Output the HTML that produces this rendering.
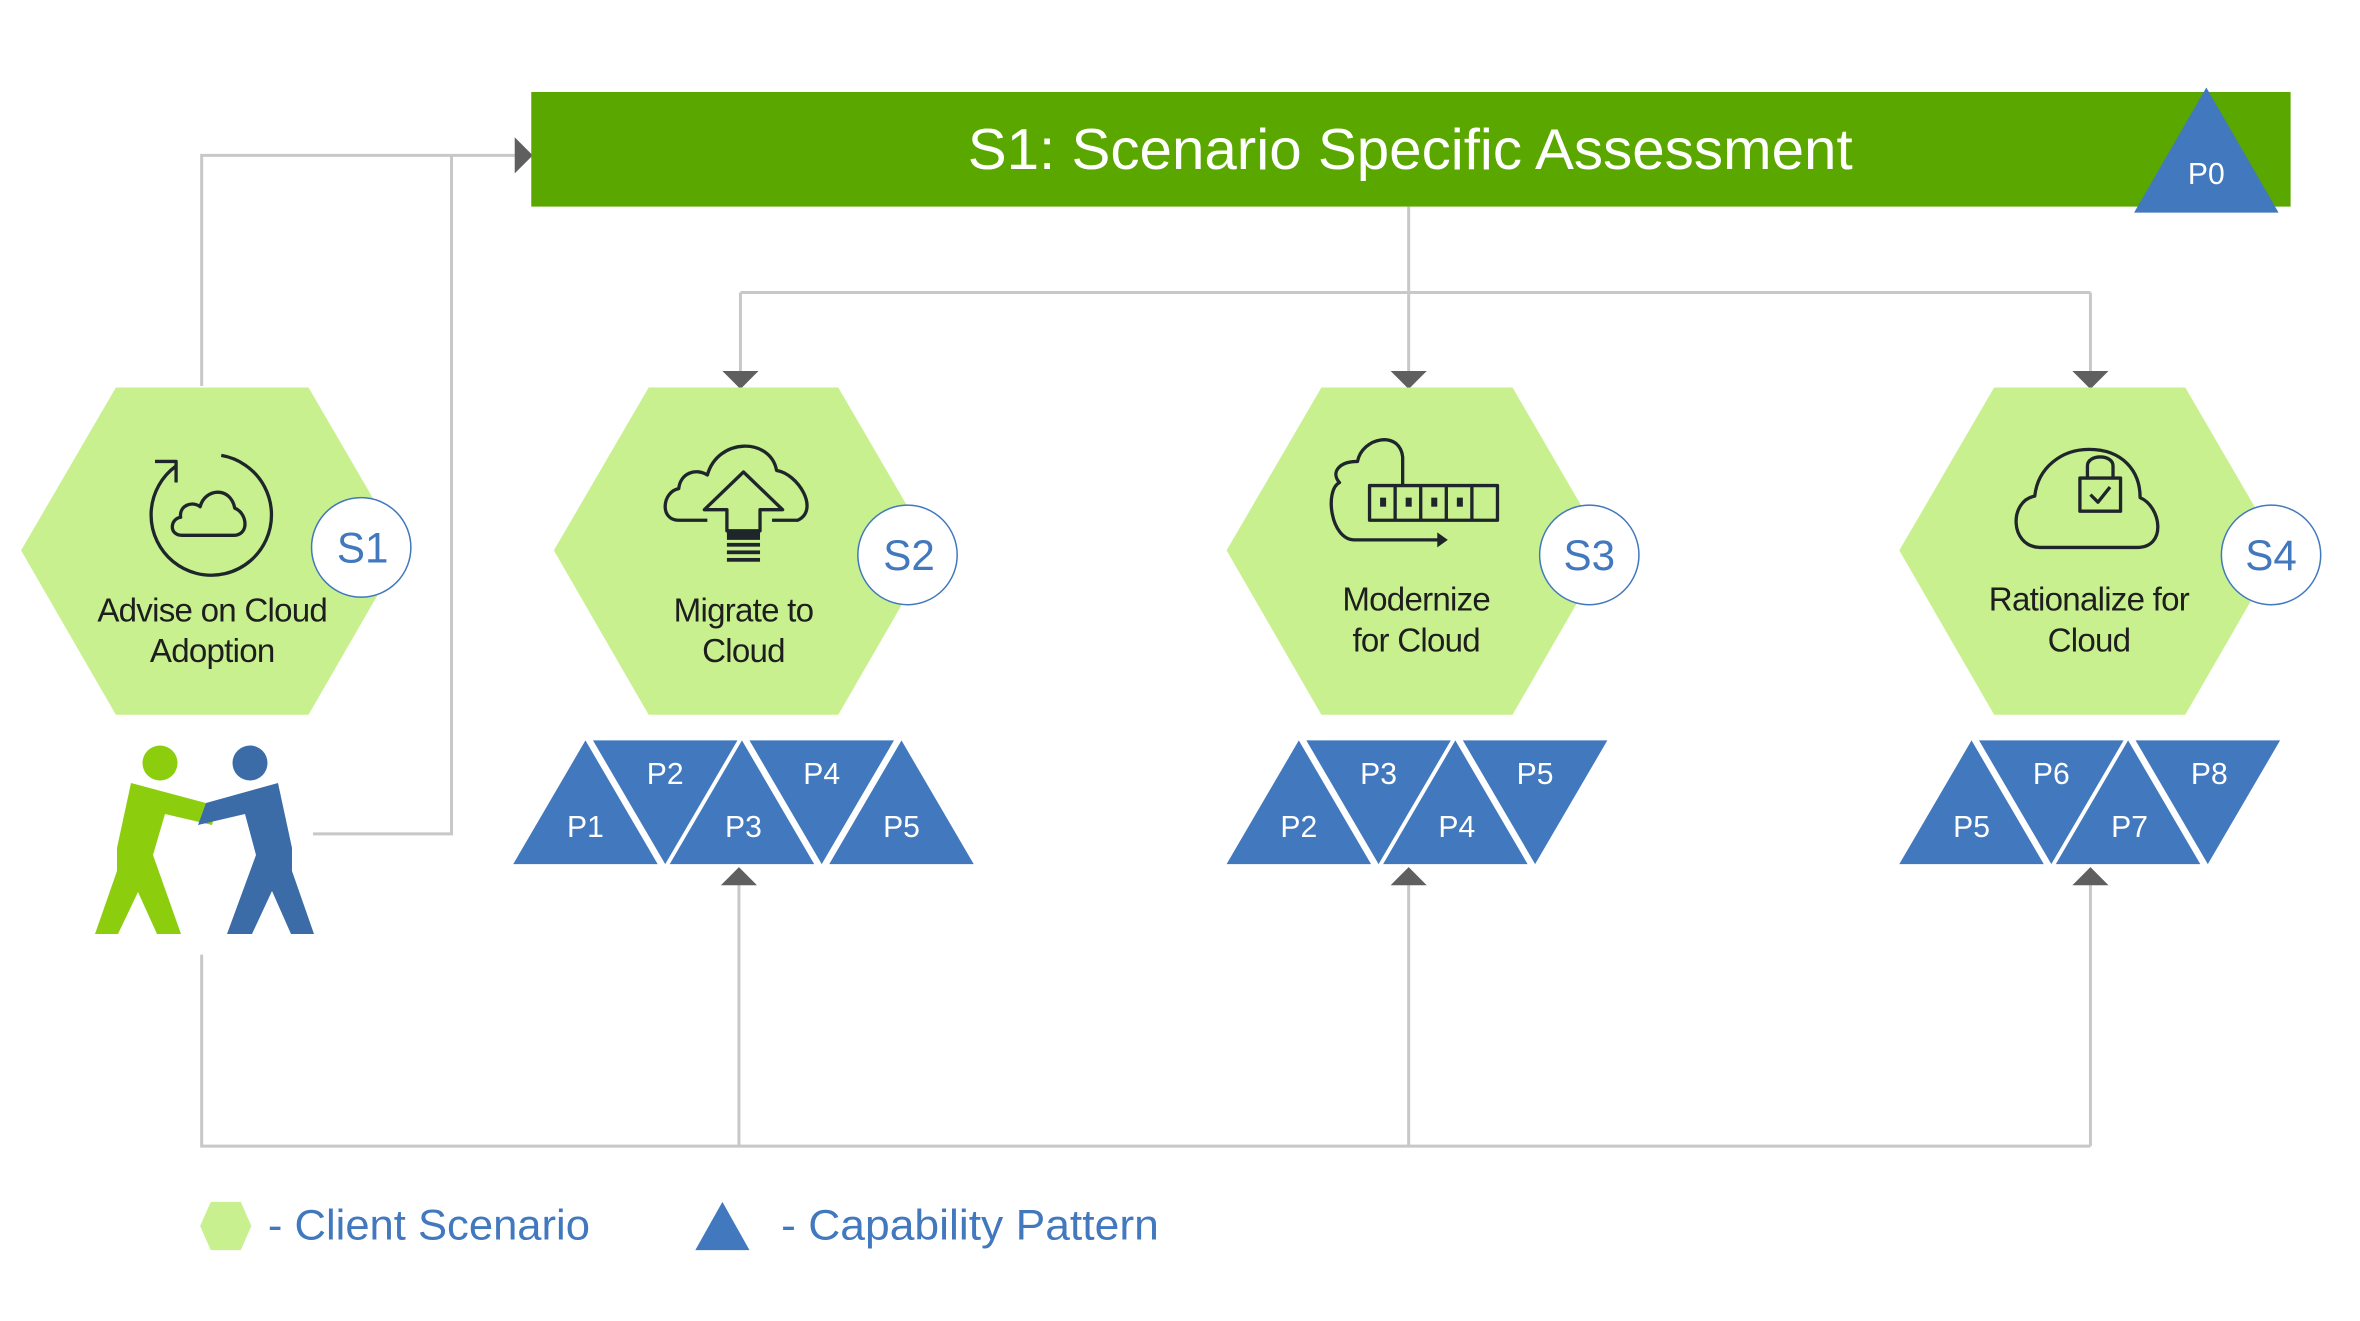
<!DOCTYPE html>
<html><head><meta charset="utf-8"><style>
html,body{margin:0;padding:0;background:#fff;}
svg{display:block;}
text{font-family:"Liberation Sans",sans-serif;}
</style></head><body>
<svg width="2360" height="1321" viewBox="0 0 2360 1321" xmlns="http://www.w3.org/2000/svg">
<g transform="scale(1.505,1.508)">
<g fill="none" stroke="#c8c8c8" stroke-width="2">
<polyline points="134,256 134,103 342,103"/>
<polyline points="208,553 300,553 300,103"/>
<line x1="936" y1="137" x2="936" y2="194"/>
<line x1="492" y1="194" x2="1389" y2="194"/>
<line x1="492" y1="194" x2="492" y2="247"/>
<line x1="936" y1="194" x2="936" y2="247"/>
<line x1="1389" y1="194" x2="1389" y2="247"/>
<polyline points="134,633 134,760 1389,760"/>
<line x1="491" y1="760" x2="491" y2="586"/>
<line x1="936" y1="760" x2="936" y2="586"/>
<line x1="1389" y1="760" x2="1389" y2="586"/>
</g>
<g fill="#5f5f5f">
<polygon points="342,91 354,103 342,115"/>
<polygon points="480,246 504,246 492,258"/>
<polygon points="924,246 948,246 936,258"/>
<polygon points="1377,246 1401,246 1389,258"/>
<polygon points="479,587 503,587 491,575"/>
<polygon points="924,587 948,587 936,575"/>
<polygon points="1377,587 1401,587 1389,575"/>
</g>
<rect x="353" y="61" width="1169" height="76" fill="#5aa700"/>
<text x="937" y="112" font-size="38" fill="#fff" text-anchor="middle" textLength="588" lengthAdjust="spacingAndGlyphs">S1: Scenario Specific  Assessment</text>
<polygon points="1466,58 1514,141 1418,141" fill="#4178be"/>
<text x="1466" y="122" font-size="20" fill="#fff" text-anchor="middle">P0</text>
<g fill="#c8f08f">
<polygon points="14,365 77,257 205,257 268,365 205,474 77,474"/>
<polygon points="368,365 431,257 557,257 620,365 557,474 431,474"/>
<polygon points="815,365 878,257 1005,257 1068,365 1005,474 878,474"/>
<polygon points="1262,365 1325,257 1452,257 1515,365 1452,474 1325,474"/>
</g>
<g fill="none" stroke="#1f262b" stroke-width="2.2" stroke-linejoin="round">
<path d="M147,302 A40,40 0 1 1 117,309"/>
<polyline points="103,306 117,306 117,320"/>
<path d="M121,355 C112,355 113,344 120,343 C119,335 128,332 133,336 C136,324 153,322 156,337 C164,340 166,354 156,355 Z"/>
<path d="M470,345 L451,345 C438,345 440,326 451,324 C452,314 462,310 470,315 C477,290 512,290 516,312 C530,314 545,338 530,345 L513,345"/>
<polygon points="494,313 520,338 505,338 505,352 483,352 483,338 468,338"/>
<path d="M932,321 L932,303 C930,285 905,290 902,306 C890,306 884,313 890,320 C880,325 884,358 900,358 L958,358"/>
<rect x="910" y="322" width="85" height="23"/>
<line x1="927" y1="322" x2="927" y2="345"/><line x1="944" y1="322" x2="944" y2="345"/>
<line x1="961" y1="322" x2="961" y2="345"/><line x1="978" y1="322" x2="978" y2="345"/>
<path d="M1355,363 C1335,362 1335,332 1352,329 C1354,310 1370,298 1388,298 C1410,298 1422,312 1422,330 C1436,336 1440,363 1420,363 Z"/>
<rect x="1382" y="317" width="27" height="22"/>
<path d="M1387,317 L1387,309 C1387,301 1404,301 1404,309 L1404,317"/>
<polyline points="1389,328 1394,333 1402,323"/>
</g>
<polygon points="955,353 962,358 955,363" fill="#1f262b"/>
<g fill="#1f262b">
<rect x="483" y="352" width="22" height="6"/>
<rect x="483" y="360" width="22" height="2.5"/><rect x="483" y="365" width="22" height="2.5"/>
<rect x="483" y="370" width="22" height="2.5"/>
<rect x="917" y="330" width="4" height="6"/><rect x="934" y="330" width="4" height="6"/>
<rect x="951" y="330" width="4" height="6"/><rect x="968" y="330" width="4" height="6"/>
</g>
<g font-size="22" fill="#1e1e1e" text-anchor="middle" letter-spacing="-0.5">
<text x="141" y="412">Advise on Cloud</text><text x="141" y="439">Adoption</text>
<text x="494" y="412">Migrate to</text><text x="494" y="439">Cloud</text>
<text x="941" y="405">Modernize</text><text x="941" y="432">for Cloud</text>
<text x="1388" y="405">Rationalize for</text><text x="1388" y="432">Cloud</text>
</g>
<g fill="#fff" stroke="#4178be" stroke-width="1">
<circle cx="240" cy="363" r="33"/><circle cx="603" cy="368" r="33"/>
<circle cx="1056" cy="368" r="33"/><circle cx="1509" cy="368" r="33"/>
</g>
<g font-size="28" fill="#4178be" text-anchor="middle">
<text x="241" y="373">S1</text><text x="604" y="378">S2</text>
<text x="1056" y="378">S3</text><text x="1509" y="378">S4</text>
</g>
<g fill="#4178be">
<polygon points="341,573 389,491 437,573"/><polygon points="394,491 490,491 442,573"/>
<polygon points="445,573 493,491 541,573"/><polygon points="498,491 594,491 546,573"/>
<polygon points="551,573 599,491 647,573"/>
<polygon points="815,573 863,491 911,573"/><polygon points="868,491 964,491 916,573"/>
<polygon points="919,573 967,491 1015,573"/><polygon points="972,491 1068,491 1020,573"/>
<polygon points="1262,573 1310,491 1358,573"/><polygon points="1315,491 1411,491 1363,573"/>
<polygon points="1366,573 1414,491 1462,573"/><polygon points="1419,491 1515,491 1467,573"/>
</g>
<g font-size="20" fill="#fff" text-anchor="middle">
<text x="389" y="555">P1</text><text x="442" y="520">P2</text><text x="494" y="555">P3</text><text x="546" y="520">P4</text><text x="599" y="555">P5</text>
<text x="863" y="555">P2</text><text x="916" y="520">P3</text><text x="968" y="555">P4</text><text x="1020" y="520">P5</text>
<text x="1310" y="555">P5</text><text x="1363" y="520">P6</text><text x="1415" y="555">P7</text><text x="1468" y="520">P8</text>
</g>
<polygon points="133,813 140,797 160,797 167,813 160,829 140,829" fill="#c8f08f"/>
<polygon points="462,829 480,797 498,829" fill="#4178be"/>
<g font-size="28" fill="#4178be">
<text x="178" y="822" textLength="214" lengthAdjust="spacingAndGlyphs">- Client Scenario</text>
<text x="519" y="822" textLength="251" lengthAdjust="spacingAndGlyphs">- Capability Pattern</text>
</g>
</g>
<circle cx="160" cy="763" r="17.5" fill="#8ccd0e"/>
<polygon fill="#8ccd0e" points="131,783 217,806 212,825 165,814 153,855 181,934 157,934 138,892 118,934 95,934 117,871 117,848"/>
<circle cx="250" cy="763" r="17.5" fill="#3b6ca8"/>
<polygon fill="#3b6ca8" points="278,783 206,803 198,825 245,814 256,855 227,934 252,934 272,891 291,934 314,934 292,871 292,848"/>
</svg>
</body></html>
